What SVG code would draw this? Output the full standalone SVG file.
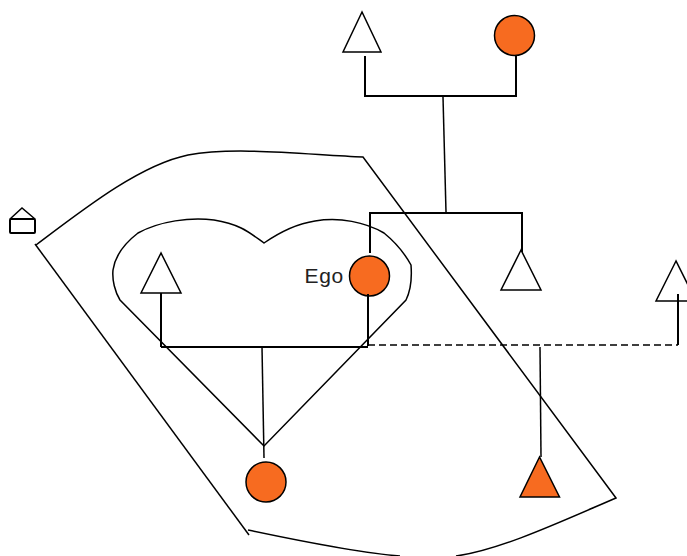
<svg xmlns="http://www.w3.org/2000/svg" width="687" height="556" viewBox="0 0 687 556">
<style>
.s{fill:#fff;stroke:#000;stroke-width:1.5}
.f{fill:#f76b20;stroke:#000;stroke-width:1.5}
.l{fill:none;stroke:#000;stroke-width:1.5}
.b{fill:none;stroke:#000;stroke-width:2}
</style>
<rect width="687" height="556" fill="#fff"/>
<g id="boundaries">
<path class="l" d="M36 245C85 208 140 165 188 155C235 146 310 155 363 157L616 498C560 522 500 550 456 556"/>
<path class="l" d="M35 244L249 535"/>
<path class="l" d="M248 530C300 541 360 553 400 556"/>
<path class="l" d="M264 243C250 233 240 224 214 220C190 217 160 221 138 233C125 243 115 256 113 270C112 280 115 292 120 300L264 446L406 300C411 290 412 278 411 265C405 254 395 242 384 233C365 222 340 217 315 221C295 224 280 232 264 243Z"/>
</g>
<g id="connectors">
<path class="b" d="M365 56V96M364 96H517M516 56V96"/>
<path class="l" d="M443 97L446 212"/>
<path class="b" d="M370 253V213H522V252"/>
<path class="b" d="M161 293V347M161 347H368M368 294V346"/>
<path class="l" d="M368 345H678" stroke-dasharray="7 4"/>
<path class="l" d="M262 347L264 458"/>
<path class="l" d="M540 347L541 457"/>
</g>
<g id="node-house"><path class="l" d="M10 219L22 208L35 219"/><rect class="b" x="10" y="219" width="25" height="14" rx="1"/></g>
<g id="node-grandfather"><polygon class="s" points="362,12 343,52 381,52"/></g>
<g id="node-grandmother"><circle class="f" cx="514.500" cy="35.500" r="20"/></g>
<g id="node-father"><polygon class="s" points="161,253 141,293 181,293"/></g>
<g id="node-ego"><circle class="f" cx="369.500" cy="276" r="20"/><text x="304.500" y="283" font-family="'Liberation Sans',Arial,sans-serif" font-size="21" letter-spacing="0.700" fill="#222">Ego</text></g>
<g id="node-uncle"><polygon class="s" points="521,250 501,290 541,290"/></g>
<g id="node-partner"><polygon class="s" points="676,261 656,301 696,301"/></g>
<g id="node-daughter"><circle class="f" cx="266" cy="482" r="20"/></g>
<g id="node-son"><polygon class="f" points="539.500,457 520,497 559.500,497"/></g>
<path class="b" d="M678 294V345"/>
<path class="b" d="M368 294V346"/>
</svg>
